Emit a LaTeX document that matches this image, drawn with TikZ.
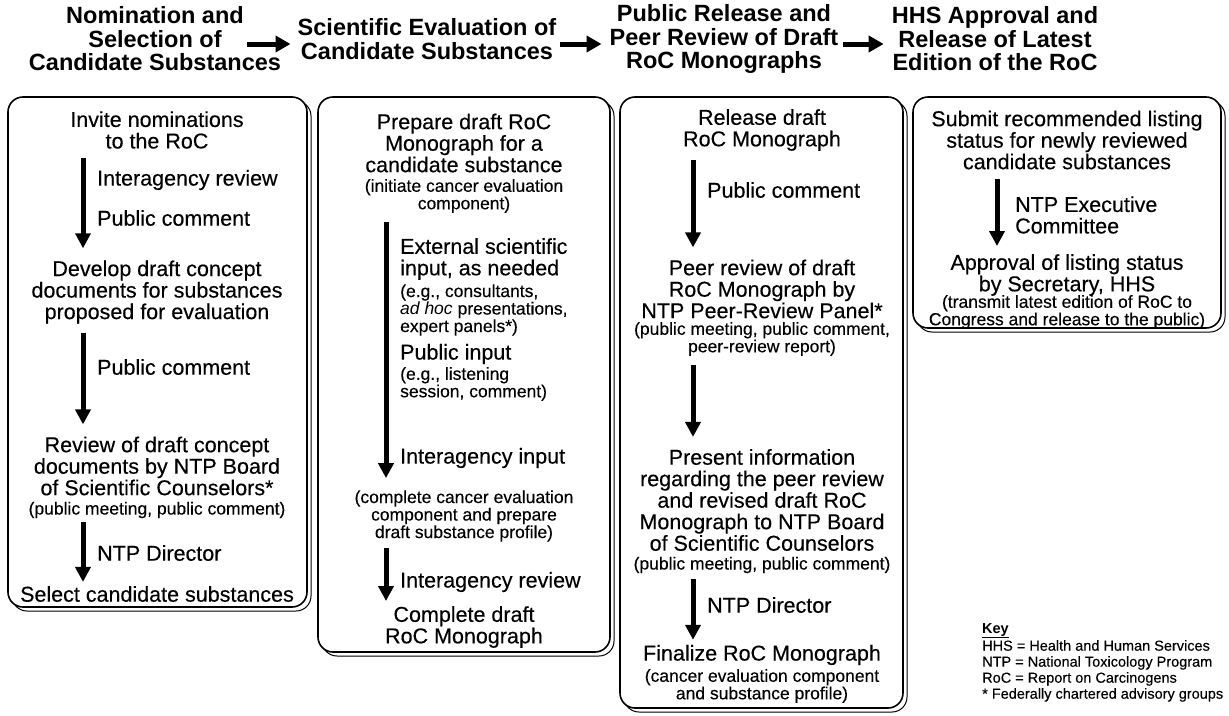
\documentclass[tikz,border=0pt]{standalone}
\usepackage{fontspec}
\setmainfont{Liberation Sans}[UprightFeatures={FakeBold=0.3}]
\usetikzlibrary{arrows.meta,positioning}

\begin{document}
\begin{tikzpicture}[x=1pt,y=-1pt,
  stage head/.style={font=\fontsize{23.5}{23.5}\selectfont\bfseries,align=center,inner sep=0pt},
  stage text/.style={font=\fontsize{21.5}{21.5}\selectfont,align=center,inner sep=0pt},
  side text/.style={stage text,align=left,anchor=west},
  note text/.style={font=\fontsize{17.5}{17.5}\selectfont,align=center,inner sep=0pt},
  side note/.style={note text,align=left,anchor=west},
  stage box/.style={line width=1.6pt,rounded corners=15pt},
  flow/.style={-{Triangle[width=15pt,length=15pt]},line width=5pt,shorten <=9pt,shorten >=12pt},
  head flow/.style={-{Triangle[width=16pt,length=15pt]},line width=5pt}]
\useasboundingbox (0,0) rectangle (1229,715);

% boxes with offset outline
\foreach \xa/\ya/\xb/\yb in {8/97/307/607,318/97/610/652,620/97/903/708,913/97/1221/328}{
  \draw[line width=1pt,rounded corners=15pt] (\xa+4,\ya+4) rectangle (\xb+4,\yb+4);
  \draw[stage box,fill=white] (\xa,\ya) rectangle (\xb,\yb);
}

% headings
\node[stage head] (h1) at (155,39) {Nomination and\\Selection of\\Candidate Substances};
\node[stage head] (h2) at (427,39) {Scientific Evaluation of\\Candidate Substances};
\node[stage head] (h3) at (724,39) {Public Release and\\Peer Review of Draft\\RoC Monographs};
\node[stage head] (h4) at (995,39) {HHS Approval and\\Release of Latest\\Edition of the RoC};
\draw[head flow] ([xshift=-34pt,yshift=-5pt]h1.east) -- ([xshift=-7pt,yshift=-5pt]h2.west);
\draw[head flow] ([xshift=4pt,yshift=-5pt]h2.east) -- ([xshift=-8pt,yshift=-5pt]h3.west);
\draw[head flow] ([xshift=5pt,yshift=-5pt]h3.east) -- ([xshift=-8pt,yshift=-5pt]h4.west);

% nomination and selection
\coordinate (a1) at (83,0);
\node[stage text] (inv) at (157,130) {Invite nominations\\to the RoC};
\node[side text] (l11) at (97,180) {Interagency review};
\node[side text] (l12) at (97,218) {Public comment};
\node[stage text] (dev) at (157,292) {Develop draft concept\\documents for substances\\proposed for evaluation};
\node[side text] (l13) at (97,367) {Public comment};
\node[stage text] (rev) at (157,466) {Review of draft concept\\documents by NTP Board\\of Scientific Counselors*};
\node[note text] (revn) at (157,510) {(public meeting, public comment)};
\node[side text] (l14) at (97,553) {NTP Director};
\node[stage text] (sel) at (157,594) {Select candidate substances};
\draw[flow] (inv.south -| a1) -- (dev.north -| a1);
\draw[flow] (dev.south -| a1) -- (rev.north -| a1);
\draw[flow,shorten <=4pt,shorten >=4pt] (revn.south -| a1) -- (sel.north -| a1);

% scientific evaluation
\coordinate (a2) at (386,0);
\node[stage text] (prep) at (464,143) {Prepare draft RoC\\Monograph for a\\candidate substance};
\node[note text] (prepn) at (464,196) {(initiate cancer evaluation\\component)};
\node[side text] (l21) at (400,259) {External scientific\\input, as needed};
\node[side note] (l22) at (400,310) {(e.g., consultants,\\\textit{ad hoc} presentations,\\expert panels*)};
\node[side text] (l23) at (400,354) {Public input};
\node[side note] (l24) at (400,384) {(e.g., listening\\session, comment)};
\node[side text] (l25) at (400,458) {Interagency input};
\node[note text] (cpl) at (464,516) {(complete cancer evaluation\\component and prepare\\draft substance profile)};
\node[side text] (l26) at (400,582) {Interagency review};
\node[stage text] (comp) at (464,627) {Complete draft\\RoC Monograph};
\draw[flow] (prepn.south -| a2) -- (cpl.north -| a2);
\draw[flow,shorten <=6pt,shorten >=5pt] (cpl.south -| a2) -- (comp.north -| a2);

% public release and peer review
\coordinate (a3) at (693,0);
\node[stage text] (rel) at (762,130) {Release draft\\RoC Monograph};
\node[side text] (l31) at (707,190) {Public comment};
\node[stage text] (peer) at (762,289) {Peer review of draft\\RoC Monograph by\\NTP Peer-Review Panel*};
\node[note text] (peern) at (762,339) {(public meeting, public comment,\\peer-review report)};
\node[stage text] (pres) at (762,500) {Present information\\regarding the peer review\\and revised draft RoC\\Monograph to NTP Board\\of Scientific Counselors};
\node[note text] (presn) at (762,565) {(public meeting, public comment)};
\node[side text] (l32) at (707,605) {NTP Director};
\node[stage text] (fin) at (762,655) {Finalize RoC Monograph};
\node[note text] (finn) at (762,686) {(cancer evaluation component\\and substance profile)};
\draw[flow] (rel.south -| a3) -- (peer.north -| a3);
\draw[flow] (peern.south -| a3) -- (pres.north -| a3);
\draw[flow,shorten <=6pt,shorten >=5pt] (presn.south -| a3) -- (fin.north -| a3);

% approval and release
\coordinate (a4) at (997,0);
\node[stage text] (sub) at (1067,140) {Submit recommended listing\\status for newly reviewed\\candidate substances};
\node[side text] (l41) at (1015,215) {NTP Executive\\Committee};
\node[stage text] (appr) at (1067,275) {Approval of listing status\\by Secretary, HHS};
\node[note text] (apprn) at (1067,312) {(transmit latest edition of RoC to\\Congress and release to the public)};
\draw[flow,shorten >=8pt] (sub.south -| a4) -- (appr.north -| a4);

% key
\node[anchor=north west,font=\fontsize{14.5}{16}\selectfont,align=left,inner sep=0pt] (key) at (982,623)
  {\textbf{\underline{Key}}\\[1.5pt]HHS = Health and Human Services\\NTP = National Toxicology Program\\RoC = Report on Carcinogens\\* Federally chartered advisory groups};
\end{tikzpicture}
\end{document}
